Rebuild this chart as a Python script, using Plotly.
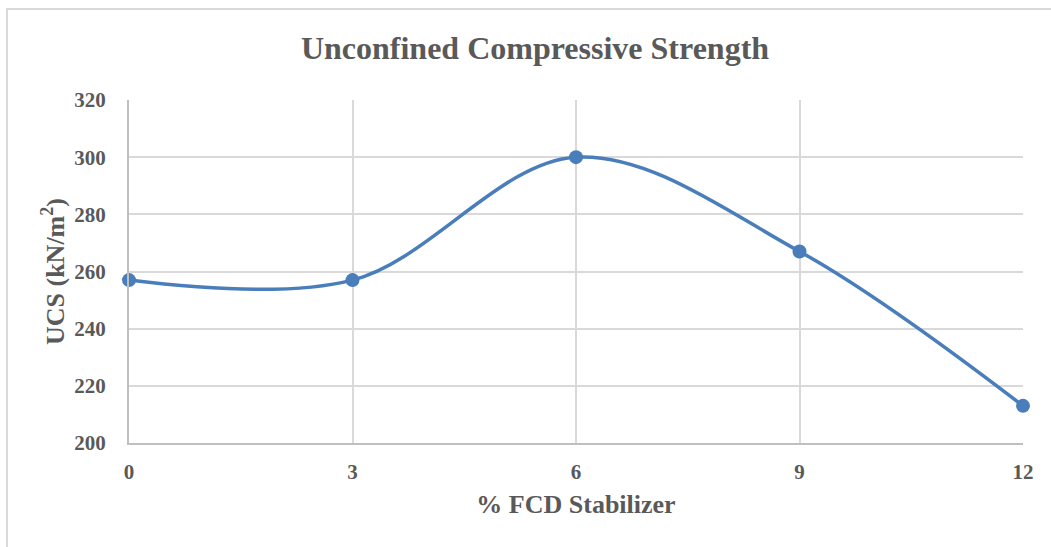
import plotly.graph_objects as go

stabilizer_pct = [0, 3, 6, 9, 12]
ucs_values = [257, 257, 300, 267, 213]
x_ticks = [0, 3, 6, 9, 12]
y_ticks = [200, 220, 240, 260, 280, 300, 320]

title_text = "Unconfined Compressive Strength"
x_title = "% FCD Stabilizer"
y_title = "UCS (kN/m<sup>2</sup>)"

W, H = 1051, 547
L, R, T, B = 129, 28, 100, 104
pw, ph = W - L - R, H - T - B

font_fam = "Liberation Serif, Times New Roman, serif"
gray = "#595959"

fig = go.Figure()
fig.add_trace(go.Scatter(
    x=stabilizer_pct, y=ucs_values,
    mode="lines+markers",
    line=dict(color="#4a7ebb", width=3.5, shape="spline", smoothing=1),
    marker=dict(color="#4a7ebb", size=14),
    cliponaxis=False,
    showlegend=False,
))

fig.update_layout(
    width=W, height=H,
    margin=dict(l=L, r=R, t=T, b=B),
    paper_bgcolor="white", plot_bgcolor="white",
    font=dict(family=font_fam, color=gray),
    title=dict(text="<b>" + title_text + "</b>", xref="container", x=535 / W,
               xanchor="center", yref="container", y=1 - 48 / H, yanchor="middle",
               font=dict(size=32, color=gray, family=font_fam)),
)

fig.update_xaxes(
    range=[0, 12], tickvals=x_ticks, ticktext=["<b>%d</b>" % v for v in x_ticks],
    showgrid=True, gridcolor="#d9d9d9", gridwidth=2,
    showline=True, linecolor="#bfbfbf", linewidth=2,
    zeroline=False, ticks="", ticklabelstandoff=9,
    tickfont=dict(size=21, color=gray, family=font_fam),
    title=dict(text="<b>" + x_title + "</b>", standoff=12,
               font=dict(size=26, color=gray, family=font_fam)),
)
fig.update_yaxes(
    range=[200, 320], tickvals=y_ticks, ticktext=["<b>%d</b>" % v for v in y_ticks],
    showgrid=True, gridcolor="#d9d9d9", gridwidth=2,
    showline=True, linecolor="#bfbfbf", linewidth=2,
    zeroline=False, ticks="", ticklabelstandoff=17,
    tickfont=dict(size=21, color=gray, family=font_fam),
    title=dict(text="<b>" + y_title + "</b>", standoff=2,
               font=dict(size=26, color=gray, family=font_fam)),
)

# outer chart border (extends past the right and bottom edges)
fig.add_shape(type="rect", xref="paper", yref="paper",
              x0=(7 - L) / pw, x1=(1060 - L) / pw,
              y0=(H - B - 560) / ph, y1=(H - B - 9) / ph,
              line=dict(color="#d9d9d9", width=2), fillcolor="rgba(0,0,0,0)",
              layer="below")

fig.write_html("out.html")
